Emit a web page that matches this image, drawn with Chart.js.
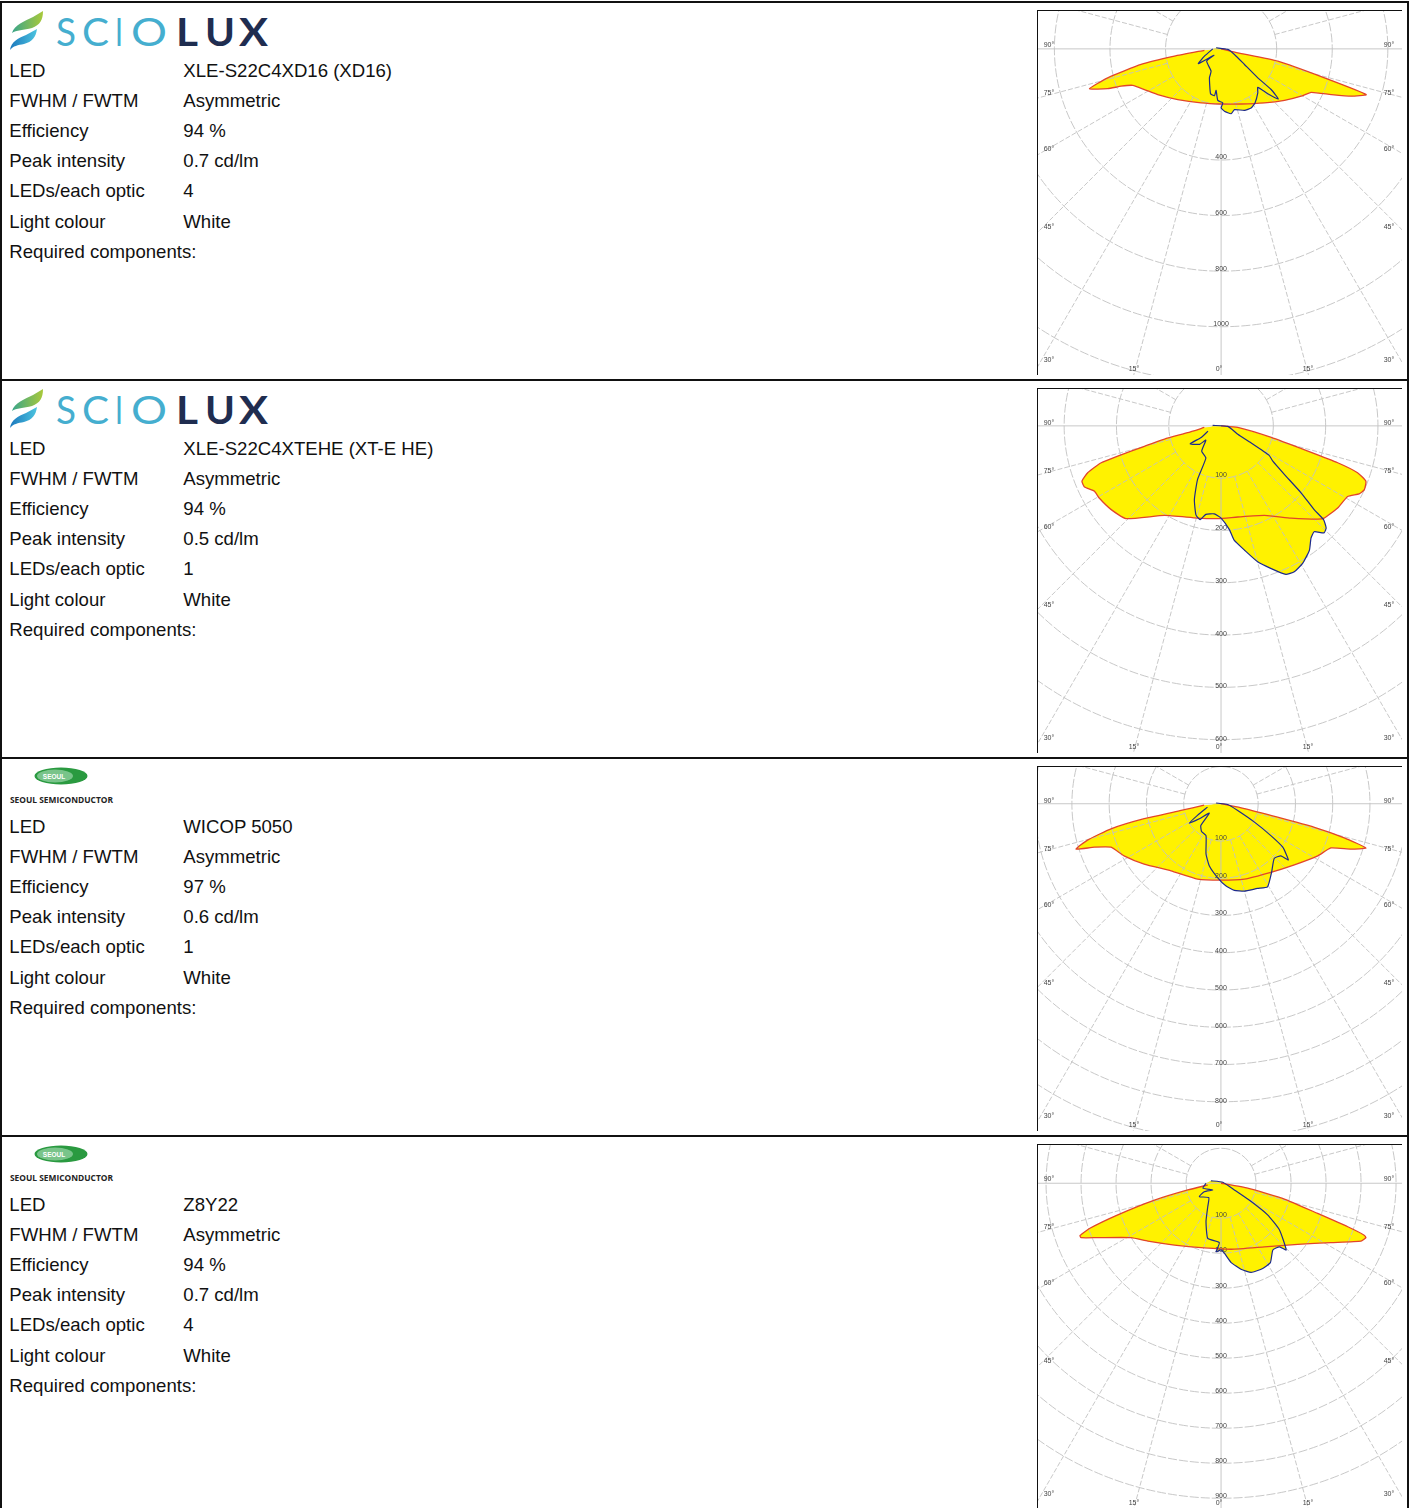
<!DOCTYPE html>
<html>
<head>
<meta charset="utf-8">
<title>LED optics</title>
<script src="https://cdn.jsdelivr.net/npm/chart.js@4"></script>
<style>
html, body { margin: 0; padding: 0; background: #fff; }
body { width: 1412px; height: 1508px; position: relative; overflow: hidden; font-family: "Liberation Sans", Arial, sans-serif; color: #111; }
.row { position: absolute; left: 0; width: 1409px; height: 378px; box-sizing: border-box; border-left: 2px solid #111; border-right: 2px solid #111; border-top: 2px solid #111; }
.logo { position: absolute; left: -2px; top: -2px; }
.lines { position: absolute; left: 7.3px; top: 52.7px; font-size: 18.6px; line-height: 30.17px; white-space: nowrap; }
.lines div span { display: inline-block; width: 174px; }
.plot { position: absolute; left: 1034.5px; top: 6.5px; width: 364px; height: 364px; box-sizing: content-box; border-top: 1px solid #111; border-left: 1px solid #111; }
.plot canvas { filter: blur(0.4px); }
</style>
</head>
<body>
<script>
// TABLE TEXT
const rowLabels = ['LED', 'FWHM / FWTM', 'Efficiency', 'Peak intensity', 'LEDs/each optic', 'Light colour', 'Required components:'];
const ledNames = ['XLE-S22C4XD16 (XD16)', 'XLE-S22C4XTEHE (XT-E HE)', 'WICOP 5050', 'Z8Y22'];
const beamTypes = ['Asymmetric', 'Asymmetric', 'Asymmetric', 'Asymmetric'];
const efficiencies = ['94 %', '94 %', '97 %', '94 %'];
const peakIntensities = ['0.7 cd/lm', '0.5 cd/lm', '0.6 cd/lm', '0.7 cd/lm'];
const ledsPerOptic = ['4', '1', '1', '4'];
const lightColours = ['White', 'White', 'White', 'White'];
const logos = ['sciolux', 'sciolux', 'seoul', 'seoul'];

// RINGS, cd/klm
const rings1 = [200, 400, 600, 800, 1000, 1200];
const rings2 = [100, 200, 300, 400, 500, 600];
const rings3 = [100, 200, 300, 400, 500, 600, 700, 800, 900];
const rings4 = [100, 200, 300, 400, 500, 600, 700, 800, 900];
const ringLabels1 = ['', '400', '600', '800', '1000', ''];
const ringLabels2 = ['100', '200', '300', '400', '500', '600'];
const ringLabels3 = ['100', '200', '300', '400', '500', '600', '700', '800', ''];
const ringLabels4 = ['100', '200', '300', '400', '500', '600', '700', '800', '900'];
const angleLabels = ['90°', '75°', '60°', '45°', '30°', '15°', '0°', '15°', '30°', '45°', '60°', '75°', '90°'];

// CURVES, horizontal and downward part of the intensity in cd/klm
const redX1 = [0, 60, 204, 372, 522, 468, 396, 324, 288, 228, 156, 72, 0, -72, -156, -228, -276, -318, -360, -408, -474, -408, -288, -168, -60];
const redY1 = [0, 14, 44, 104, 164, 170, 164, 156, 170, 185, 194, 198, 198, 194, 182, 164, 146, 131, 134, 143, 143, 104, 56, 26, 5];
const blueX1 = [-18, 24, 48, 84, 132, 180, 206, 168, 132, 132, 122, 108, 84, 48, 36, 12, 0, 6, -12, -18, -24, -38, -42, -36, -52, -26, -82, -60, -30];
const blueY1 = [-4, 2, 20, 56, 104, 146, 180, 161, 138, 158, 194, 212, 221, 218, 233, 224, 212, 194, 185, 149, 168, 161, 104, 80, 44, 23, 53, 26, 0];

const redX2 = [0, 32, 96, 166, 223, 261, 277, 274, 264, 242, 223, 197, 185, 134, 83, 32, -6, -45, -108, -182, -210, -233, -242, -261, -266, -255, -229, -172, -108, -64, -32];
const redY2 = [0, 3, 22, 48, 70, 89, 105, 121, 129, 134, 156, 175, 177, 175, 170, 173, 176, 175, 170, 176, 159, 137, 124, 116, 105, 89, 70, 48, 25, 13, 3];
const blueX2 = [-16, 13, 32, 57, 92, 99, 121, 153, 178, 196, 201, 197, 178, 172, 169, 156, 140, 124, 96, 70, 45, 25, 16, 0, -13, -29, -40, -48, -51, -45, -29, -37, -29, -41, -59, -38, -25];
const blueY2 = [-1, 1, 16, 32, 56, 67, 92, 127, 159, 178, 194, 203, 201, 213, 236, 261, 277, 282, 271, 258, 236, 217, 197, 175, 167, 168, 178, 169, 140, 102, 61, 48, 27, 35, 34, 22, 10];

const redX3 = [0, 63, 152, 251, 331, 389, 349, 295, 260, 197, 134, 63, 0, -63, -134, -206, -260, -295, -340, -389, -358, -295, -206, -107, -45];
const redY3 = [0, 13, 36, 63, 91, 118, 121, 118, 139, 163, 183, 201, 204, 201, 179, 161, 139, 116, 116, 121, 97, 67, 40, 18, 4];
const blueX3 = [-13, 18, 45, 90, 134, 166, 181, 161, 143, 136, 125, 98, 63, 36, 13, -9, -31, -40, -40, -52, -54, -31, -58, -85, -63, -36];
const blueY3 = [-2, 2, 18, 49, 85, 116, 150, 139, 146, 183, 222, 226, 233, 231, 219, 197, 166, 134, 85, 74, 58, 25, 40, 52, 31, 9];

const redX4 = [0, 76, 181, 276, 362, 409, 414, 400, 314, 219, 124, 29, -48, -133, -209, -257, -352, -400, -403, -376, -295, -190, -95, -38];
const redY4 = [0, 14, 45, 86, 124, 148, 155, 165, 169, 174, 181, 188, 184, 176, 165, 155, 155, 155, 149, 129, 90, 48, 19, 5];
const blueX4 = [-29, 5, 38, 86, 133, 167, 186, 167, 148, 141, 119, 86, 57, 29, 10, 0, -14, -5, -38, -43, -38, -35, -62, -48, -24, -52, -43];
const blueY4 = [-7, -3, 19, 52, 90, 133, 190, 181, 190, 226, 243, 254, 245, 226, 200, 190, 195, 169, 157, 109, 67, 41, 38, 24, 19, 14, 0];

// AXIS WINDOWS
const xMins = [-659, -350, -491, -523];
const xMaxs = [651, 346, 486, 517];
const yMins = [-136, -70, -98, -109];
const yMaxs = [1171, 621, 873, 928];

const redXs = [redX1, redX2, redX3, redX4];
const redYs = [redY1, redY2, redY3, redY4];
const blueXs = [blueX1, blueX2, blueX3, blueX4];
const blueYs = [blueY1, blueY2, blueY3, blueY4];
const allRings = [rings1, rings2, rings3, rings4];
const allRingLabels = [ringLabels1, ringLabels2, ringLabels3, ringLabels4];

// where the angle labels sit inside each plot, in canvas pixels
const angleSpots = [
  [11, 34], [11, 82], [11, 138], [11, 216], [11, 349], [96, 358], [181, 358],
  [270, 358], [351, 349], [351, 216], [351, 138], [351, 82], [351, 34]
];

function toPoints(xs, ys) {
  return xs.map(function (x, i) { return { x: x, y: ys[i] }; });
}

// one letter of the logo, stretched to the width it has in the picture
function letter(ch, x, w, weight, colour) {
  return '<text x="' + x + '" y="45" textLength="' + w + '" lengthAdjust="spacingAndGlyphs" font-family="Lato" font-weight="' + weight +
    '" font-size="39" fill="' + colour + '">' + ch + '</text>';
}

function sciolux() {
  return '<svg class="logo" width="290" height="60">' +
    '<defs><linearGradient id="lg" x1="0" x2="1"><stop offset="0" stop-color="#3aa58a"/><stop offset="1" stop-color="#a9c93a"/></linearGradient>' +
    '<linearGradient id="lb" x1="0" x2="1"><stop offset="0" stop-color="#1b78bd"/><stop offset="1" stop-color="#4cc4df"/></linearGradient></defs>' +
    '<path d="M12 32 C14 24 25 20 33 16 L43 10 C43 19 40 24 32 27 C24 29 16 29 12 32Z" fill="url(#lg)"/>' +
    '<path d="M10 49 C11 41 18 37 26 34 L37 28 C36 36 32 41 24 43 C18 44 13 45 10 49Z" fill="url(#lb)"/>' +
    letter('S', 56, 20, 400, '#45aecf') + letter('C', 82, 27, 400, '#45aecf') + letter('I', 115, 8, 400, '#45aecf') + letter('O', 131, 36, 400, '#45aecf') +
    letter('L', 176, 22, 700, '#1f2d50') + letter('U', 205, 30, 700, '#1f2d50') + letter('X', 239, 29, 700, '#1f2d50') +
    '</svg>';
}

function seoul() {
  return '<svg class="logo" width="130" height="55">' +
    '<ellipse cx="61" cy="19" rx="26.5" ry="8.5" fill="#2a9a40"/>' +
    '<ellipse cx="55" cy="19" rx="18" ry="6.5" fill="#79c48a"/>' +
    '<text x="54" y="21.5" text-anchor="middle" font-family="Liberation Sans" font-size="6.5" font-weight="700" fill="#fff">SEOUL</text>' +
    '<text x="10" y="46" textLength="103" lengthAdjust="spacingAndGlyphs" font-family="Open Sans" font-size="9" font-weight="700" fill="#222">SEOUL SEMICONDUCTOR</text>' +
    '</svg>';
}

// POLAR GRID, drawn under the outlines and over the yellow
const polarGrid = {
  id: 'polarGrid',
  beforeDatasetDraw: function (chart, args, opts) {
    if (args.index !== 1) return;
    const ctx = chart.ctx, sx = chart.scales.x, sy = chart.scales.y, area = chart.chartArea;
    const cx = sx.getPixelForValue(0), cy = sy.getPixelForValue(0);
    const unit = sx.getPixelForValue(100) - cx;
    const first = opts.rings[0] * unit / 100;

    ctx.save();
    ctx.beginPath();
    ctx.rect(area.left, area.top, area.width, area.height);
    ctx.clip();

    ctx.strokeStyle = '#c2c2c2';
    ctx.lineWidth = 0.9;
    ctx.setLineDash([9, 2]);
    opts.rings.forEach(function (r) {
      ctx.beginPath();
      ctx.arc(cx, cy, r * unit / 100, 0, Math.PI * 2);
      ctx.stroke();
    });

    ctx.setLineDash([5, 2]);
    for (let a = -120; a <= 120; a += 15) {
      if (Math.abs(a) === 90 || a === 0) continue;
      const t = a * Math.PI / 180;
      ctx.beginPath();
      ctx.moveTo(cx + first * Math.sin(t), cy + first * Math.cos(t));
      ctx.lineTo(cx + 700 * Math.sin(t), cy + 700 * Math.cos(t));
      ctx.stroke();
    }

    ctx.setLineDash([]);
    ctx.beginPath();
    ctx.moveTo(area.left, cy);
    ctx.lineTo(area.right, cy);
    ctx.moveTo(cx, cy + first);
    ctx.lineTo(cx, area.bottom);
    ctx.stroke();

    ctx.fillStyle = '#444';
    ctx.font = '7px "Liberation Sans"';
    ctx.textAlign = 'center';
    ctx.textBaseline = 'middle';
    opts.rings.forEach(function (r, i) {
      if (opts.labels[i]) ctx.fillText(opts.labels[i], cx, sy.getPixelForValue(r) - 3);
    });
    angleLabels.forEach(function (txt, i) {
      ctx.fillText(txt, area.left + angleSpots[i][0], area.top + angleSpots[i][1]);
    });
    ctx.restore();
  }
};

function makeRow(i) {
  const row = document.createElement('div');
  row.className = 'row';
  row.style.top = (1 + 378 * i) + 'px';
  const values = [ledNames[i], beamTypes[i], efficiencies[i], peakIntensities[i], ledsPerOptic[i], lightColours[i], ''];
  let html = logos[i] === 'sciolux' ? sciolux() : seoul();
  html += '<div class="lines">';
  rowLabels.forEach(function (label, n) {
    html += '<div><span>' + label + '</span>' + values[n] + '</div>';
  });
  html += '</div><div class="plot"><canvas id="plot' + i + '" width="364" height="364"></canvas></div>';
  row.innerHTML = html;
  document.body.appendChild(row);

  new Chart(document.getElementById('plot' + i), {
    type: 'scatter',
    data: {
      datasets: [
        { data: toPoints(blueXs[i], blueYs[i]), showLine: true, tension: 0.15, borderColor: '#1d2a8c', borderWidth: 1.2, pointRadius: 0, fill: false },
        { data: toPoints(redXs[i], redYs[i]), showLine: true, tension: 0.15, borderColor: '#e2452a', borderWidth: 1.3, pointRadius: 0, fill: false },
        { data: toPoints(blueXs[i], blueYs[i]), showLine: true, tension: 0.15, borderWidth: 0, backgroundColor: '#fff200', pointRadius: 0, fill: 'shape' },
        { data: toPoints(redXs[i], redYs[i]), showLine: true, tension: 0.15, borderWidth: 0, backgroundColor: '#fff200', pointRadius: 0, fill: 'shape' }
      ]
    },
    options: {
      responsive: false,
      animation: false,
      layout: { padding: 0 },
      plugins: {
        legend: { display: false },
        tooltip: { enabled: false },
        polarGrid: { rings: allRings[i], labels: allRingLabels[i] }
      },
      scales: {
        x: { type: 'linear', display: false, min: xMins[i], max: xMaxs[i] },
        y: { type: 'linear', display: false, reverse: true, min: yMins[i], max: yMaxs[i] }
      }
    },
    plugins: [polarGrid]
  });
}

for (var i = 0; i < ledNames.length; i++) {
  makeRow(i);
}
</script>
</body>
</html>
